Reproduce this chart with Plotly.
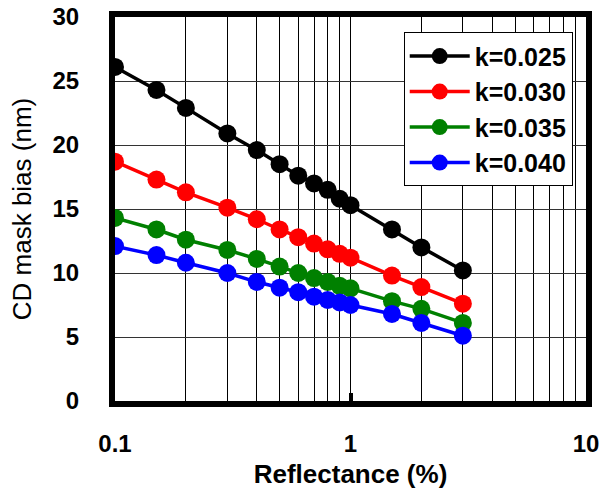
import plotly.graph_objects as go

reflectance = [0.1, 0.15, 0.2, 0.3, 0.4, 0.5, 0.6, 0.7, 0.8, 0.9, 1.0, 1.5, 2.0, 3.0]
bias_k025 = [26.1, 24.3, 22.9, 20.9, 19.6, 18.5, 17.6, 17.0, 16.5, 15.8, 15.3, 13.4, 12.0, 10.2]
bias_k030 = [18.7, 17.3, 16.3, 15.1, 14.2, 13.4, 12.8, 12.3, 11.85, 11.5, 11.2, 9.8, 8.9, 7.6]
bias_k035 = [14.3, 13.4, 12.6, 11.8, 11.1, 10.5, 10.0, 9.6, 9.3, 9.0, 8.8, 7.8, 7.2, 6.1]
bias_k040 = [12.1, 11.4, 10.8, 10.0, 9.3, 8.85, 8.5, 8.15, 7.9, 7.7, 7.5, 6.8, 6.1, 5.1]
series_names = ["k=0.025", "k=0.030", "k=0.035", "k=0.040"]
series_colors = ["black", "red", "green", "blue"]
x_major = [0.1, 1, 10]
x_major_text = ["0.1", "1", "10"]
x_minor = [m * d for d in (0.1, 1) for m in range(2, 10)]

fig = go.Figure()
for name, ys, col in zip(series_names, [bias_k025, bias_k030, bias_k035, bias_k040], series_colors):
    fig.add_trace(go.Scatter(
        x=reflectance, y=ys, name=name, mode="lines+markers",
        line=dict(color=col, width=3.5),
        marker=dict(color=col, size=18, symbol="circle"),
    ))

font_family = "Liberation Sans, Arial, sans-serif"
fig.update_layout(
    width=599, height=498,
    margin=dict(l=115, r=13, t=17, b=97),
    paper_bgcolor="white", plot_bgcolor="white",
    font=dict(family=font_family, size=20, color="black"),
    showlegend=True,
    legend=dict(
        x=0.613, y=0.96, xanchor="left", yanchor="top",
        bgcolor="white", bordercolor="black", borderwidth=1,
        font=dict(size=25, family=font_family, weight="bold"),
        itemwidth=60, tracegroupgap=0,
    ),
    xaxis=dict(
        type="log", range=[-1, 1], automargin=False,
        tickmode="array", tickvals=x_major, ticktext=x_major_text,
        tickfont=dict(size=24, weight="bold"),
        ticks="inside", ticklen=8, tickwidth=4, tickcolor="black",
        ticklabelstandoff=16, ticklabeloverflow="allow",
        showgrid=True, gridcolor="black", gridwidth=1,
        minor=dict(tickmode="array", tickvals=x_minor, showgrid=True,
                   gridcolor="black", gridwidth=1, ticks=""),
        showline=True, linecolor="black", linewidth=6, mirror=True,
        zeroline=False,
        title=dict(text="Reflectance (%)", font=dict(size=26, weight="bold"), standoff=11),
    ),
    yaxis=dict(
        range=[0, 30], dtick=5, tick0=0, automargin=False,
        tickfont=dict(size=24, weight="bold"),
        ticks="", ticklabelstandoff=25, ticklabeloverflow="allow",
        showgrid=True, gridcolor="#333333", gridwidth=1,
        showline=True, linecolor="black", linewidth=6, mirror=True,
        zeroline=False,
        title=dict(text="CD mask bias (nm)", font=dict(size=26), standoff=15),
    ),
)

fig.write_html("out.html")
